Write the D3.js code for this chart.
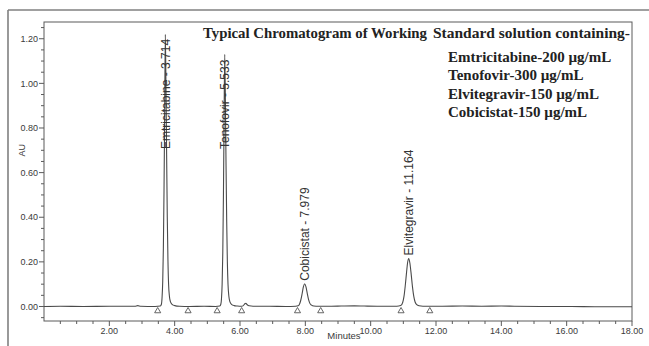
<!DOCTYPE html>
<html>
<head>
<meta charset="utf-8">
<script src="https://cdn.jsdelivr.net/npm/d3@7"></script>
<style>
  html, body { margin: 0; padding: 0; background: #ffffff; }
  svg { display: block; }
</style>
</head>
<body>
<svg id="chart" width="649" height="346"></svg>
<script>
// ---------------- DATA ----------------
const traceTime = [
  0.00, 0.50, 1.20, 2.00, 2.78, 2.87, 2.96, 3.40,
  3.56, 3.594, 3.614, 3.634, 3.654, 3.674, 3.694, 3.714, 3.734, 3.754, 3.774, 3.794, 3.814, 3.84, 3.87, 3.92, 4.00, 4.15, 4.45,
  4.90, 5.25,
  5.38, 5.413, 5.433, 5.453, 5.473, 5.493, 5.513, 5.533, 5.553, 5.573, 5.593, 5.613, 5.633, 5.66, 5.69, 5.74, 5.82, 5.92,
  6.05, 6.10, 6.15, 6.18, 6.22, 6.28, 6.40, 6.90, 7.40,
  7.70, 7.78, 7.82, 7.86, 7.90, 7.94, 7.979, 8.02, 8.06, 8.10, 8.14, 8.19, 8.26, 8.40,
  8.80, 9.10, 9.50, 9.80, 10.20, 10.60,
  10.80, 10.92, 10.98, 11.02, 11.06, 11.10, 11.13, 11.164, 11.20, 11.24, 11.28, 11.32, 11.36, 11.41, 11.48, 11.60,
  12.20, 12.80, 13.40, 14.00, 14.40, 15.20, 16.00, 17.00, 18.00
];
const traceAU = [
  0.000, 0.001, 0.000, 0.001, 0.001, 0.004, 0.001, 0.000,
  0.002, 0.010, 0.040, 0.110, 0.260, 0.520, 0.860, 1.220, 0.980, 0.680, 0.400, 0.210, 0.100, 0.045, 0.022, 0.010, 0.004, 0.001, 0.000,
  0.001, 0.000,
  0.002, 0.010, 0.035, 0.100, 0.240, 0.500, 0.850, 1.130, 0.920, 0.630, 0.380, 0.200, 0.100, 0.045, 0.022, 0.010, 0.004, 0.002,
  0.001, 0.004, 0.012, 0.014, 0.008, 0.003, 0.001, 0.001, 0.000,
  0.001, 0.003, 0.010, 0.028, 0.056, 0.088, 0.102, 0.088, 0.058, 0.031, 0.014, 0.006, 0.002, 0.001,
  0.001, 0.002, 0.003, 0.002, 0.001, 0.001,
  0.001, 0.004, 0.018, 0.045, 0.095, 0.155, 0.196, 0.215, 0.195, 0.145, 0.088, 0.045, 0.020, 0.008, 0.003, 0.001,
  0.001, 0.002, 0.001, 0.002, 0.001, 0.000, 0.000, -0.001, -0.001
];

const peakNames  = ["Emtricitabine", "Tenofovir", "Cobicistat", "Elvitegravir"];
const peakTimes  = [3.714, 5.533, 7.979, 11.164];
const peakTimeLabels = ["3.714", "5.533", "7.979", "11.164"];
const peakApexAU = [1.220, 1.130, 0.102, 0.215];

const markerTimes = [3.48, 4.41, 5.30, 6.05, 7.76, 8.47, 10.93, 11.81];

const xTickValues = [2, 4, 6, 8, 10, 12, 14, 16, 18];
const xMinorTicks = d3.range(0.5, 18.01, 0.5);
const yTickValues = [0.00, 0.20, 0.40, 0.60, 0.80, 1.00, 1.20];
const yMinorTicks = d3.range(-0.05, 1.26, 0.05);

const titleParts = ["Typical Chromatogram of Working", "Standard solution containing-"];
const legendLines = [
  "Emtricitabine-200 \u00b5g/mL",
  "Tenofovir-300 \u00b5g/mL",
  "Elvitegravir-150 \u00b5g/mL",
  "Cobicistat-150 \u00b5g/mL"
];
const xAxisTitle = "Minutes";
const yAxisTitle = "AU";

// ---------------- LAYOUT ----------------
const svg = d3.select("#chart");
const plot = { left: 44, right: 632, top: 22, bottom: 321 };

const x = d3.scaleLinear().domain([0, 18]).range([plot.left, plot.right]);
const y = d3.scaleLinear().domain([-0.065, 1.275]).range([plot.bottom, plot.top]);

const axisColor = "#5a5a5a";
const textColor = "#3a3a3a";
const serif = "Liberation Serif, Times New Roman, serif";
const sans = "Liberation Sans, Arial, sans-serif";

// outer (cropped) frame: top and left only
svg.append("line").attr("x1", 8).attr("y1", 10).attr("x2", 649).attr("y2", 10)
  .attr("stroke", "#808080").attr("stroke-width", 1.6);
svg.append("line").attr("x1", 8).attr("y1", 10).attr("x2", 8).attr("y2", 346)
  .attr("stroke", "#808080").attr("stroke-width", 1.6);

// plot frame
svg.append("rect")
  .attr("x", plot.left).attr("y", plot.top)
  .attr("width", plot.right - plot.left).attr("height", plot.bottom - plot.top)
  .attr("fill", "none").attr("stroke", axisColor).attr("stroke-width", 1);

// x axis ticks
const gx = svg.append("g").attr("transform", `translate(0,${plot.bottom})`);
gx.selectAll("line").data(xMinorTicks).enter().append("line")
  .attr("x1", d => x(d)).attr("x2", d => x(d))
  .attr("y1", 0).attr("y2", d => (Math.abs(d % 2) < 1e-6 ? 5 : 3))
  .attr("stroke", axisColor).attr("stroke-width", 1);
gx.selectAll("text").data(xTickValues).enter().append("text")
  .attr("x", d => x(d)).attr("y", 13)
  .attr("text-anchor", "middle")
  .attr("font-family", sans)
  .attr("font-size", 9).attr("fill", textColor)
  .text(d => d.toFixed(2));
svg.append("text")
  .attr("x", x(9) + 6).attr("y", plot.bottom + 18)
  .attr("text-anchor", "middle")
  .attr("font-family", sans)
  .attr("font-size", 9.5).attr("fill", textColor)
  .text(xAxisTitle);

// y axis ticks
const gy = svg.append("g").attr("transform", `translate(${plot.left},0)`);
gy.selectAll("line").data(yMinorTicks).enter().append("line")
  .attr("y1", d => y(d)).attr("y2", d => y(d))
  .attr("x1", 0).attr("x2", d => (Math.abs(Math.round(d * 100) % 20) === 0 ? -5 : -3))
  .attr("stroke", axisColor).attr("stroke-width", 1);
gy.selectAll("text").data(yTickValues).enter().append("text")
  .attr("x", -6).attr("y", d => y(d)).attr("dy", "0.35em")
  .attr("text-anchor", "end")
  .attr("font-family", sans)
  .attr("font-size", 9).attr("fill", textColor)
  .text(d => d.toFixed(2));
svg.append("text")
  .attr("transform", `translate(25,${y(0.70)}) rotate(-90)`)
  .attr("text-anchor", "middle")
  .attr("font-family", sans)
  .attr("font-size", 9).attr("fill", textColor)
  .text(yAxisTitle);

// clip
svg.append("clipPath").attr("id", "clip").append("rect")
  .attr("x", plot.left).attr("y", plot.top)
  .attr("width", plot.right - plot.left).attr("height", plot.bottom - plot.top);

// trace
const pts = traceTime.map((t, i) => [t, traceAU[i]]);
const line = d3.line().x(d => x(d[0])).y(d => y(d[1])).curve(d3.curveMonotoneX);
svg.append("path").datum(pts)
  .attr("clip-path", "url(#clip)")
  .attr("d", line)
  .attr("fill", "none").attr("stroke", "#4a4a4a").attr("stroke-width", 1.1);

// integration markers
svg.selectAll("path.marker").data(markerTimes).enter().append("path")
  .attr("class", "marker")
  .attr("transform", d => `translate(${x(d)},${y(0) + 4.5})`)
  .attr("d", d3.symbol().type(d3.symbolTriangle).size(16))
  .attr("fill", "none").attr("stroke", "#555").attr("stroke-width", 0.9);

// peak labels
svg.selectAll("text.peak").data(peakNames).enter().append("text")
  .attr("class", "peak")
  .attr("transform", (d, i) => {
    const yStart = Math.max(y(peakApexAU[i]) - 3, 149);
    return `translate(${x(peakTimes[i])},${yStart}) rotate(-90)`;
  })
  .attr("dy", "0.35em")
  .attr("text-anchor", "start")
  .attr("font-family", sans)
  .attr("font-size", 12).attr("fill", "#333")
  .text((d, i) => `${d} - ${peakTimeLabels[i]}`);

// title
svg.append("text")
  .attr("x", 203).attr("y", 38)
  .attr("font-family", serif)
  .attr("font-weight", "bold").attr("font-size", 14.8).attr("fill", "#222")
  .attr("textLength", 224).attr("lengthAdjust", "spacingAndGlyphs")
  .text(titleParts[0]);
svg.append("text")
  .attr("x", 433).attr("y", 38)
  .attr("font-family", serif)
  .attr("font-weight", "bold").attr("font-size", 14.8).attr("fill", "#222")
  .attr("textLength", 197).attr("lengthAdjust", "spacingAndGlyphs")
  .text(titleParts[1]);

svg.selectAll("text.legend").data(legendLines).enter().append("text")
  .attr("class", "legend")
  .attr("x", 448).attr("y", (d, i) => 62 + i * 18.4)
  .attr("font-family", serif)
  .attr("font-weight", "bold").attr("font-size", 15).attr("fill", "#222")
  .text(d => d);
</script>
</body>
</html>
